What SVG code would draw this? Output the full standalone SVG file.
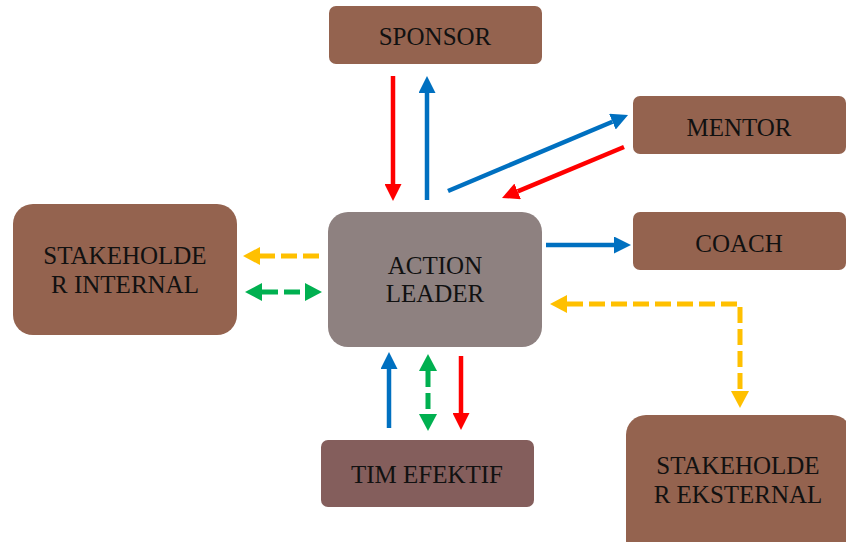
<svg xmlns="http://www.w3.org/2000/svg" width="846" height="542" viewBox="0 0 846 542">
<style>
.node{fill:#94634f}
.lbl{font-family:"Liberation Serif","Times New Roman",serif;font-size:25px;fill:#111;text-anchor:middle}
.c{fill:none;stroke-width:4.5}
.d{fill:none;stroke-width:5;stroke-dasharray:16 6}
.blue{stroke:#0070c0}.red{stroke:#ff0000}.yel{stroke:#ffc000}.grn{stroke:#00b050}
</style>
<defs>
<marker id="hb" markerUnits="userSpaceOnUse" markerWidth="17" markerHeight="17" refX="0" refY="8.5" orient="auto-start-reverse"><path d="M0,0 L17,8.5 L0,17 z" fill="#0070c0"/></marker>
<marker id="hr" markerUnits="userSpaceOnUse" markerWidth="17" markerHeight="17" refX="0" refY="8.5" orient="auto-start-reverse"><path d="M0,0 L17,8.5 L0,17 z" fill="#ff0000"/></marker>
<marker id="hy" markerUnits="userSpaceOnUse" markerWidth="17" markerHeight="18" refX="0" refY="9" orient="auto-start-reverse"><path d="M0,0 L17,9 L0,18 z" fill="#ffc000"/></marker>
<marker id="hg" markerUnits="userSpaceOnUse" markerWidth="17" markerHeight="18" refX="0" refY="9" orient="auto-start-reverse"><path d="M0,0 L17,9 L0,18 z" fill="#00b050"/></marker>
</defs>
<rect width="846" height="542" fill="#fff"/>
<g id="sponsor"><rect class="node" x="329" y="6" width="213" height="58" rx="7"/><text class="lbl" x="435" y="45">SPONSOR</text></g>
<g id="mentor"><rect class="node" x="633" y="96" width="213" height="58" rx="7"/><text class="lbl" x="739" y="136">MENTOR</text></g>
<g id="coach"><rect class="node" x="633" y="212" width="213" height="58" rx="7"/><text class="lbl" x="739" y="252">COACH</text></g>
<g id="action-leader"><rect x="328" y="212" width="214" height="135" rx="20" fill="#8e8180"/><text class="lbl" x="435" y="274">ACTION</text><text class="lbl" x="435" y="302">LEADER</text></g>
<g id="stakeholder-internal"><rect class="node" x="13" y="204" width="224" height="131" rx="20"/><text class="lbl" x="125" y="264">STAKEHOLDE</text><text class="lbl" x="125" y="293">R INTERNAL</text></g>
<g id="tim-efektif"><rect x="321" y="440" width="213" height="67" rx="7" fill="#845e5c"/><text class="lbl" x="427" y="483">TIM EFEKTIF</text></g>
<g id="stakeholder-eksternal"><rect class="node" x="626" y="415" width="226" height="145" rx="20"/><text class="lbl" x="738" y="474">STAKEHOLDE</text><text class="lbl" x="738" y="503">R EKSTERNAL</text></g>
<g id="connectors">
<line class="c red" x1="393" y1="76" x2="393" y2="184" marker-end="url(#hr)"/>
<line class="c blue" x1="427" y1="200" x2="427" y2="93" marker-end="url(#hb)"/>
<line class="c blue" x1="448" y1="191" x2="612.4" y2="121.7" marker-end="url(#hb)"/>
<line class="c red" x1="624" y1="147" x2="517.7" y2="191.4" marker-end="url(#hr)"/>
<line class="c blue" x1="546" y1="245" x2="614" y2="245" marker-end="url(#hb)"/>
<line class="d yel" x1="319" y1="256" x2="260" y2="256" marker-end="url(#hy)"/>
<line class="d grn" x1="262" y1="292" x2="305" y2="292" marker-start="url(#hg)" marker-end="url(#hg)"/>
<line class="c blue" x1="389" y1="428" x2="389" y2="369" marker-end="url(#hb)"/>
<line class="d grn" x1="428" y1="371" x2="428" y2="414" marker-start="url(#hg)" marker-end="url(#hg)"/>
<line class="c red" x1="461" y1="356" x2="461" y2="413" marker-end="url(#hr)"/>
<path class="d yel" d="M567,304 L740,304 L740,391" marker-start="url(#hy)" marker-end="url(#hy)"/>
</g>
</svg>
